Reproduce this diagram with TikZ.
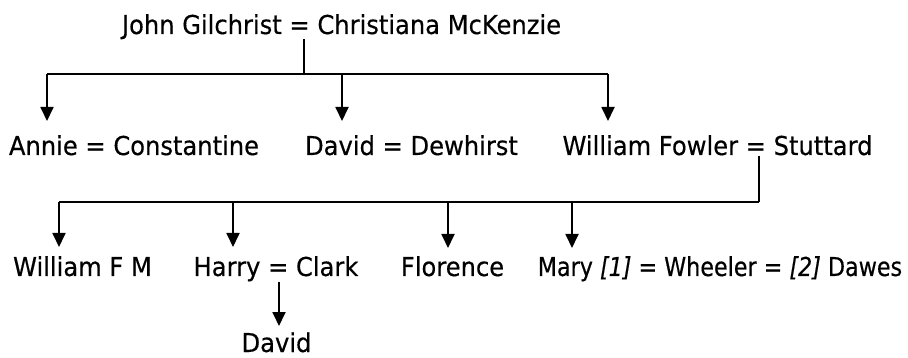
\documentclass[tikz,border=0pt]{standalone}
\usepackage{fontspec}
\setmainfont{DejaVu Sans}[FakeStretch=0.93,FakeBold=0.4]
\newfontfamily\maryfont{DejaVu Sans}[FakeStretch=0.855,FakeBold=0.4]
\usetikzlibrary{arrows.meta}
\begin{document}
\begin{tikzpicture}[x=1pt,y=-1pt,
  person/.style={font=\fontsize{26}{30}\selectfont, inner sep=0pt, anchor=base},
  link/.style={line width=1.8pt},
  arr/.style={link,-{Triangle[width=13pt,length=14pt]}}]
\useasboundingbox (0,0) rectangle (908,358);
% people
\node[person] (top) at (341.5,34) {John Gilchrist = Christiana McKenzie};
\node[person] (annie) at (134,155) {Annie = Constantine};
\node[person] (david) at (411.5,155) {David = Dewhirst};
\node[person] (william) at (717.5,155) {William Fowler = Stuttard};
\node[person] (wfm) at (82.5,276) {William F M};
\node[person] (harry) at (276,276) {Harry = Clark};
\node[person] (florence) at (452.5,276) {Florence};
\node[person, font=\fontsize{26}{30}\maryfont] (mary) at (720,276) {Mary \textit{[1]} = Wheeler = \textit{[2]} Dawes};
\node[person] (david2) at (276.5,352) {David};
% generation 1
\coordinate (j0) at (304,74);
\coordinate (c1) at (47,74);
\coordinate (c2) at (342,74);
\coordinate (c3) at (608,74);
\coordinate (e1) at (47,121);
\coordinate (e2) at (342,121);
\coordinate (e3) at (608,121);
\draw[link] (top.south -| j0) -- (j0);
\draw[link] (c1) -- (c3);
\draw[arr] (c1) -- (e1);
\draw[arr] (c2) -- (e2);
\draw[arr] (c3) -- (e3);
% generation 2
\coordinate (j1) at (759,202);
\coordinate (d1) at (59,202);
\coordinate (d2) at (233,202);
\coordinate (d3) at (448,202);
\coordinate (d4) at (572,202);
\coordinate (f1) at (59,247);
\coordinate (f2) at (233,247);
\coordinate (f3) at (448,248);
\coordinate (f4) at (572,248);
\draw[link] (william.south -| j1) -- (j1);
\draw[link] (d1) -- (j1);
\draw[arr] (d1) -- (f1);
\draw[arr] (d2) -- (f2);
\draw[arr] (d3) -- (f3);
\draw[arr] (d4) -- (f4);
% generation 3
\coordinate (h1) at (279,326);
\draw[arr] (harry.south -| h1) -- (h1);
\end{tikzpicture}
\end{document}
